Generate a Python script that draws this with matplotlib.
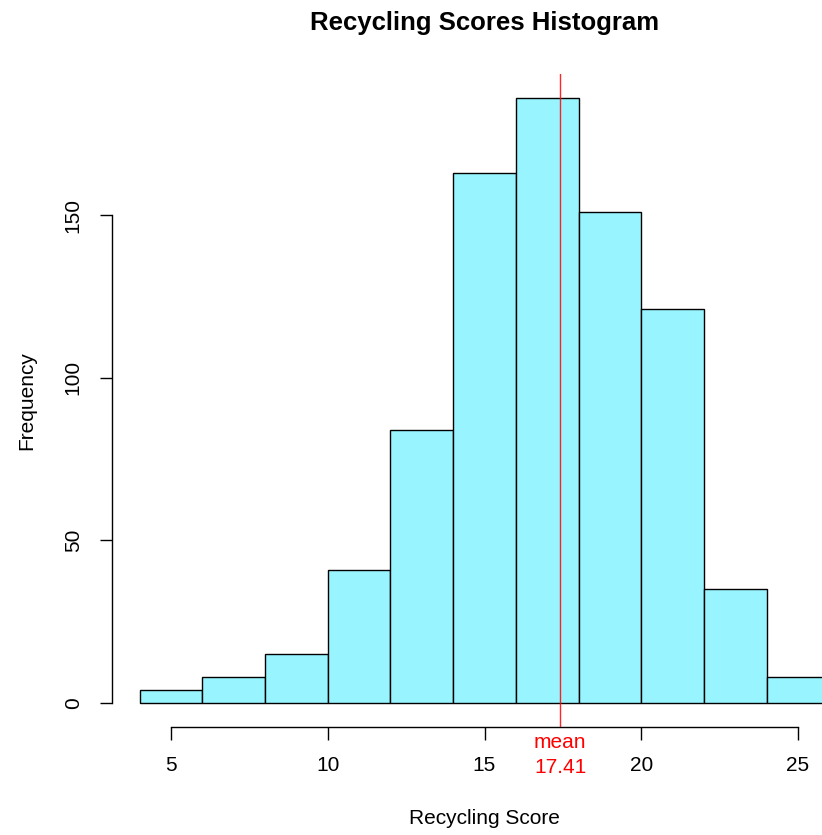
import numpy as np
import matplotlib
matplotlib.use("Agg")
import matplotlib.pyplot as plt

# bin edges and counts
bin_edges = [4, 6, 8, 10, 12, 14, 16, 18, 20, 22, 24, 26]
counts = [4, 8, 15, 41, 84, 163, 186, 151, 121, 35, 8]
mean_score = 17.41
x_ticks = [5, 10, 15, 20, 25]
y_ticks = [0, 50, 100, 150]

plt.rcParams['font.family'] = ['Liberation Sans', 'DejaVu Sans']
FS = 15

fig = plt.figure(figsize=(8.22, 8.35), dpi=100)
ax = fig.add_axes([112 / 822, 1 - 727.2 / 835, (857 - 112) / 822, (727.2 - 73.7) / 835])

lefts = np.array(bin_edges[:-1])
widths = np.diff(bin_edges)
ax.bar(lefts, counts, width=widths, align='edge', color='#98F5FF',
       edgecolor='black', linewidth=1.0, zorder=2)

# R-style ranges (4% padding)
span = bin_edges[-1] - bin_edges[0]
ax.set_xlim(bin_edges[0] - 0.04 * span, bin_edges[-1] + 0.04 * span)
ymax = max(counts)
ax.set_ylim(-0.04 * ymax, 1.04 * ymax)

# mean line across the plot region
ax.axvline(mean_score, color='#FF0000', linewidth=1.0, zorder=3, alpha=0.85)
ax.annotate('mean', xy=(mean_score, 0), xycoords=('data', 'axes fraction'),
            xytext=(0, -10.7), textcoords='offset points', ha='center', va='center',
            color='#FF0000', fontsize=FS)
ax.annotate(f'{mean_score:.2f}', xy=(mean_score, 0), xycoords=('data', 'axes fraction'),
            xytext=(0, -28.8), textcoords='offset points', ha='center', va='center',
            color='#FF0000', fontsize=FS)

# axes styled like base R
for side in ['top', 'right']:
    ax.spines[side].set_visible(False)
ax.spines['bottom'].set_bounds(x_ticks[0], x_ticks[-1])
ax.spines['left'].set_bounds(y_ticks[0], y_ticks[-1])
ax.spines['bottom'].set_linewidth(1.0)
ax.spines['left'].set_linewidth(1.0)

ax.set_xticks(x_ticks)
ax.set_yticks(y_ticks)
ax.set_yticklabels([str(v) for v in y_ticks], rotation=90, va='center')
ax.tick_params(axis='both', direction='out', length=9, width=1.0, labelsize=FS)
ax.tick_params(axis='x', pad=12)
ax.tick_params(axis='y', pad=12)

ax.set_xlabel('Recycling Score', fontsize=FS, labelpad=24)
ax.set_ylabel('Frequency', fontsize=FS, labelpad=20)
ax.set_title('Recycling Scores Histogram', fontsize=18.5, fontweight='bold', pad=31.5)

fig.savefig('out.png', dpi=100)
